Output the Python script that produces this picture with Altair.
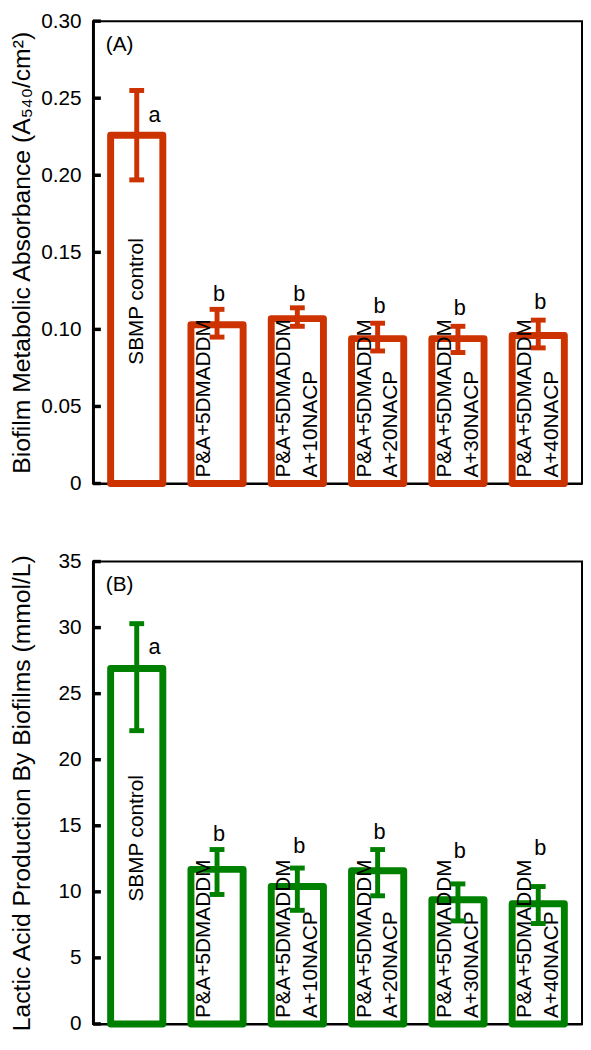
import altair as alt
import pandas as pd

# ---------------- data ----------------
groups = ["SBMP control", "P&A+5DMADDM", "P&A+5DMADDM A+10NACP",
          "P&A+5DMADDM A+20NACP", "P&A+5DMADDM A+30NACP", "P&A+5DMADDM A+40NACP"]
label_line1 = ["SBMP control", "P&A+5DMADDM", "P&A+5DMADDM", "P&A+5DMADDM",
               "P&A+5DMADDM", "P&A+5DMADDM"]
label_line2 = ["", "", "A+10NACP", "A+20NACP", "A+30NACP", "A+40NACP"]
letters = ["a", "b", "b", "b", "b", "b"]

# Panel A: biofilm metabolic absorbance
mean_a = [0.226, 0.103, 0.107, 0.094, 0.094, 0.096]
hi_a = [0.255, 0.113, 0.114, 0.104, 0.102, 0.106]
lo_a = [0.197, 0.095, 0.102, 0.086, 0.085, 0.088]
letter_y_a = [0.239, 0.123, 0.123, 0.115, 0.114, 0.1175]
ticks_a = [0, 0.05, 0.10, 0.15, 0.20, 0.25, 0.30]

# Panel B: lactic acid production
mean_b = [26.9, 11.7, 10.4, 11.6, 9.4, 9.1]
hi_b = [30.3, 13.2, 11.8, 13.2, 10.6, 10.4]
lo_b = [22.2, 9.8, 8.6, 9.7, 7.8, 7.6]
letter_y_b = [28.5, 14.4, 13.5, 14.5, 13.1, 13.3]
ticks_b = [0, 5, 10, 15, 20, 25, 30, 35]

FONT = "Liberation Sans"
RED = "#CC3300"
GREEN = "#008000"


def panel(mean, hi, lo, letter_y, ticks, color, title, tag, label_expr, height):
    df = pd.DataFrame({
        "group": groups, "mean": mean, "hi": hi, "lo": lo,
        "l1": label_line1, "l2": label_line2,
        "letter": letters, "ly": letter_y, "idx": list(range(len(groups))),
    })
    xaxis = alt.Axis(labels=False, ticks=False, title=None,
                     domainColor="black", domainWidth=2, grid=False)
    xscale = alt.Scale(paddingInner=0.35, paddingOuter=0.22)
    yaxis = alt.Axis(title=title, values=ticks, labelExpr=label_expr,
                     ticks=False, tickSize=0, grid=False,
                     domainColor="black", domainWidth=3,
                     labelFont=FONT, labelFontSize=21, labelColor="black",
                     labelPadding=12, minExtent=54, maxExtent=54,
                     titleFont=FONT, titleFontSize=25, titleColor="black",
                     titleFontWeight="normal", titlePadding=5)
    yscale = alt.Scale(domain=[ticks[0], ticks[-1]], nice=False, zero=True)

    def X():
        return alt.X("group:N", sort=groups, scale=xscale, axis=xaxis)

    def Y(field):
        return alt.Y(field, scale=yscale, axis=yaxis, title=title)

    base = alt.Chart(df).transform_calculate(half="datum.mean / 2", zero="0")

    bars = base.mark_bar(fill="white", stroke=color, strokeWidth=7,
                         strokeJoin="round").encode(x=X(), y=Y("mean:Q"))

    ctrl_label = base.transform_filter("datum.idx == 0").mark_text(
        angle=270, align="center", baseline="middle", font=FONT,
        fontSize=21, color="black", dx=8).encode(x=X(), y=Y("half:Q"), text="l1:N")

    line1 = base.transform_filter("datum.idx > 0").mark_text(
        angle=270, align="left", baseline="middle", font=FONT, fontSize=21,
        color="black", dx=6, dy=-13).encode(x=X(), y=Y("zero:Q"), text="l1:N")
    line2 = base.transform_filter("datum.idx > 1").mark_text(
        angle=270, align="left", baseline="middle", font=FONT, fontSize=21,
        color="black", dx=6, dy=14).encode(x=X(), y=Y("zero:Q"), text="l2:N")

    stem = base.mark_rule(color=color, strokeWidth=5).encode(
        x=X(), y=Y("lo:Q"), y2="hi:Q")
    cap_hi = base.mark_tick(color=color, thickness=5, size=15, opacity=1).encode(
        x=X(), y=Y("hi:Q"))
    cap_lo = base.mark_tick(color=color, thickness=5, size=15, opacity=1).encode(
        x=X(), y=Y("lo:Q"))

    let_a = base.transform_filter("datum.idx == 0").mark_text(
        font=FONT, fontSize=22, color="black", dx=18, baseline="middle").encode(
        x=X(), y=Y("ly:Q"), text="letter:N")
    let_b = base.transform_filter("datum.idx > 0").mark_text(
        font=FONT, fontSize=22, color="black", dx=2, baseline="middle").encode(
        x=X(), y=Y("ly:Q"), text="letter:N")

    inward_ticks = alt.Chart(pd.DataFrame({"t": ticks})).mark_rule(
        color="black", strokeWidth=3.5).encode(
        x=alt.value(0), x2=alt.value(8), y=Y("t:Q"))

    tag_t = alt.Chart(pd.DataFrame({"tag": [tag]})).mark_text(
        font=FONT, fontSize=21, color="black", align="left", baseline="middle"
    ).encode(x=alt.value(13), y=alt.value(24), text="tag:N")

    return alt.layer(bars, ctrl_label, line1, line2, stem, cap_hi, cap_lo,
                     let_a, let_b, inward_ticks, tag_t).properties(
        width=495, height=height)


pa = panel(mean_a, hi_a, lo_a, letter_y_a, ticks_a, RED,
           "Biofilm Metabolic Absorbance  (A\u2085\u2084\u2080/cm\u00b2)", "(A)",
           "datum.value == 0 ? '0' : format(datum.value, '.2f')", 468)
pb = panel(mean_b, hi_b, lo_b, letter_y_b, ticks_b, GREEN,
           "Lactic Acid Production By Biofilms  (mmol/L)", "(B)",
           "format(datum.value, 'd')", 468)

chart = alt.vconcat(pa, pb, spacing=55).properties(
    padding={"top": -5, "left": 0, "right": 0, "bottom": 0}
).configure_view(stroke="black", strokeWidth=2)

chart.save("out.html", embed_options={"renderer": "svg", "actions": False})
